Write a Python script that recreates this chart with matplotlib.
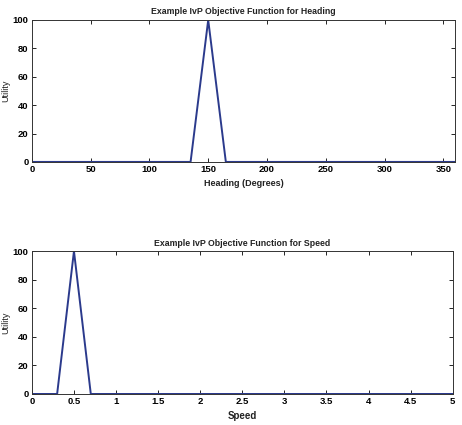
import matplotlib
matplotlib.use("Agg")
import matplotlib.pyplot as plt

heading_x = [0, 135, 150, 165, 360]
heading_y = [0, 0, 100, 0, 0]
speed_x = [0, 0.3, 0.5, 0.7, 5]
speed_y = [0, 0, 100, 0, 0]
heading_ticks = [0, 50, 100, 150, 200, 250, 300, 350]
speed_ticks = [0, 0.5, 1, 1.5, 2, 2.5, 3, 3.5, 4, 4.5, 5]
speed_ticklabels = ["0", "0.5", "1", "1.5", "2", "2.5", "3", "3.5", "4", "4.5", "5"]
y_ticks = [0, 20, 40, 60, 80, 100]

plt.rcParams['font.family'] = ['Liberation Sans', 'DejaVu Sans']
plt.rcParams['font.weight'] = 'bold'

fig = plt.figure(figsize=(4.62, 4.25), dpi=100)
line_color = '#2b3a8c'

def style(ax):
    ax.tick_params(direction='in', top=True, right=True, labelsize=6.8, length=3, width=0.6, pad=2.5)
    for lab in ax.get_xticklabels() + ax.get_yticklabels():
        lab.set_fontweight('bold')
    for s in ax.spines.values():
        s.set_linewidth(0.7)
        s.set_color('#333333')

ax1 = fig.add_axes([0.069, 0.619, 0.916, 0.334])
ax1.plot(heading_x, heading_y, color=line_color, lw=1.4)
ax1.set_xlim(0, 360)
ax1.set_ylim(0, 100)
ax1.set_xticks(heading_ticks)
ax1.set_yticks(y_ticks)
ax1.set_title("Example IvP Objective Function for Heading", fontsize=6.3, fontweight='bold', pad=4, color='#222222')
ax1.set_xlabel("Heading (Degrees)", fontsize=6.5, fontweight='bold', labelpad=3, color='#222222')
ax1.set_ylabel("Utility", fontsize=6.5, labelpad=1.5, color='#222222', fontweight='normal')
style(ax1)

ax2 = fig.add_axes([0.069, 0.073, 0.911, 0.336])
ax2.plot(speed_x, speed_y, color=line_color, lw=1.4)
ax2.set_xlim(0, 5)
ax2.set_ylim(0, 100)
ax2.set_xticks(speed_ticks)
ax2.set_xticklabels(speed_ticklabels)
ax2.set_yticks(y_ticks)
ax2.set_title("Example IvP Objective Function for Speed", fontsize=6.3, fontweight='bold', pad=4, color='#222222')
ax2.set_xlabel("Speed", fontsize=7, fontweight='bold', labelpad=3, color='#222222')
ax2.set_ylabel("Utility", fontsize=6.5, labelpad=1.5, color='#222222', fontweight='normal')
style(ax2)

fig.savefig("out.png", dpi=100)
